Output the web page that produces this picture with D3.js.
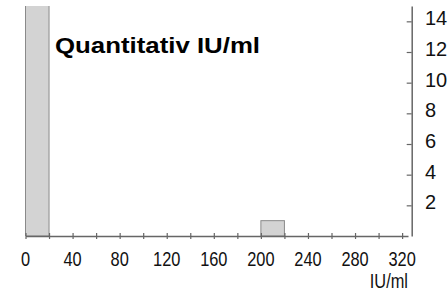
<!DOCTYPE html>
<html>
<head>
<meta charset="utf-8">
<script src="https://cdn.jsdelivr.net/npm/d3@7"></script>
<style>
  html, body { margin: 0; padding: 0; background: #fff; }
  svg { display: block; }
</style>
</head>
<body>
<div id="chart"></div>
<script>
// bins (IU/ml) and counts
const binStarts = [0, 200];
const binWidth = 20;
const counts = [16, 1];
const xTickLabels = [0, 40, 80, 120, 160, 200, 240, 280, 320];
const yTickLabels = [2, 4, 6, 8, 10, 12, 14];
const title = "Quantitativ IU/ml";
const unit = "IU/ml";

const width = 448, height = 293;
const margin = {top: 6, right: 40, bottom: 57, left: 25.5};
const narrow = 0.78;

const svg = d3.select("#chart").append("svg")
  .attr("width", width)
  .attr("height", height)
  .attr("viewBox", [0, 0, width, height]);

const x = d3.scaleLinear()
  .domain([0, 325])
  .range([margin.left, width - margin.right]);

const y = d3.scaleLinear()
  .domain([0, 15])
  .range([height - margin.bottom, margin.top]);

svg.append("clipPath").attr("id", "plot")
  .append("rect")
  .attr("x", 0).attr("y", y(15))
  .attr("width", width).attr("height", y(0) - y(15));

// bars
svg.append("g")
  .attr("clip-path", "url(#plot)")
  .selectAll("rect")
  .data(binStarts)
  .join("rect")
    .attr("x", d => x(d))
    .attr("width", d => x(d + binWidth) - x(d))
    .attr("y", (d, i) => y(counts[i]))
    .attr("height", (d, i) => y(0) - y(counts[i]))
    .attr("fill", "#d3d3d3")
    .attr("stroke", "#8a8a8a")
    .attr("stroke-width", 1);

// x axis
const xAxis = g => g
  .attr("transform", `translate(0,${y(0)})`)
  .call(d3.axisBottom(x).tickValues(d3.range(0, 321, 20)).tickSize(0).tickFormat(""))
  .call(g => g.select(".domain").attr("stroke", "#666").attr("stroke-width", 1.5))
  .call(g => g.selectAll(".tick line").remove())
  .call(g => g.selectAll(".tick").append("line")
    .attr("y1", -3).attr("y2", 3)
    .attr("stroke", "#666").attr("stroke-width", 1.2));

svg.append("g").call(xAxis);

svg.append("g")
  .selectAll("text")
  .data(xTickLabels)
  .join("text")
    .attr("transform", d => `translate(${x(d)},${y(0) + 29.5}) scale(${narrow},1)`)
    .attr("text-anchor", "middle")
    .attr("font-family", "'Liberation Sans', Arial, sans-serif")
    .attr("font-size", 21)
    .attr("fill", "#111")
    .text(d => d);

svg.append("text")
  .attr("transform", `translate(${x(325)},${y(0) + 51.5}) scale(${narrow},1)`)
  .attr("text-anchor", "end")
  .attr("font-family", "'Liberation Sans', Arial, sans-serif")
  .attr("font-size", 21)
  .attr("fill", "#111")
  .text(unit);

// y axis
const yAxis = g => g
  .attr("transform", `translate(${x(325) + 3.7},0)`)
  .call(d3.axisLeft(y).tickValues(yTickLabels).tickSize(0).tickFormat(""))
  .call(g => g.select(".domain").attr("stroke", "#666").attr("stroke-width", 1.5))
  .call(g => g.selectAll(".tick").append("line")
    .attr("x1", -5).attr("x2", 0)
    .attr("stroke", "#666").attr("stroke-width", 1.2));

svg.append("g").call(yAxis);

svg.append("g")
  .selectAll("text")
  .data(yTickLabels)
  .join("text")
    .attr("x", x(325) + 17)
    .attr("y", d => y(d) + 4)
    .attr("font-family", "'Liberation Sans', Arial, sans-serif")
    .attr("font-size", 20)
    .attr("fill", "#111")
    .text(d => d);

// title
svg.append("text")
  .attr("x", 55)
  .attr("y", 53)
  .attr("font-family", "'Liberation Sans', Arial, sans-serif")
  .attr("font-weight", "bold")
  .attr("font-size", 22)
  .attr("textLength", 205)
  .attr("lengthAdjust", "spacingAndGlyphs")
  .attr("fill", "#000")
  .text(title);
</script>
</body>
</html>
